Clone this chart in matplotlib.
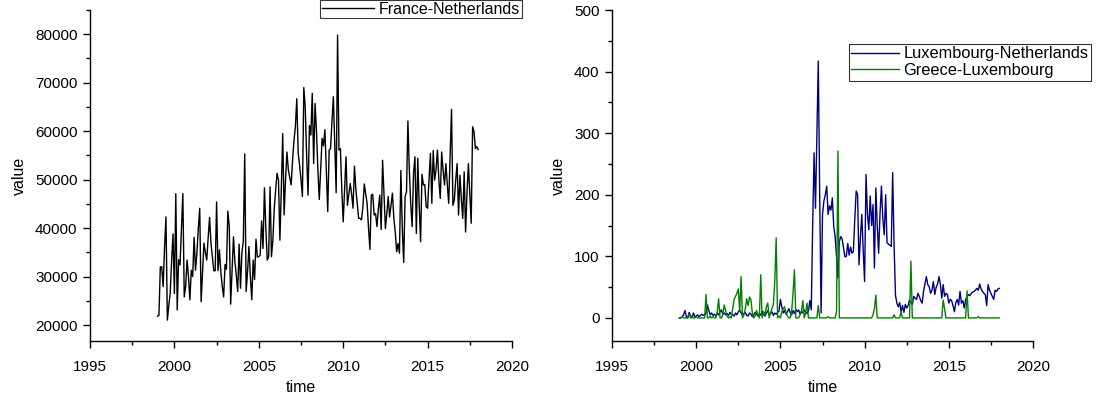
import numpy as np
import matplotlib
matplotlib.use("Agg")
import matplotlib.pyplot as plt
from matplotlib.ticker import MultipleLocator

plt.rcParams['font.family'] = ['Liberation Sans', 'DejaVu Sans']

start_year = 1999
france_netherlands = [
    21800, 22000, 32000, 32000, 27900, 36000, 42300, 21000, 24000, 26500,
    33000, 38800, 26500, 47100, 23100, 33500, 32400, 40000, 47100, 25800,
    28000, 33400, 30000, 25200, 31300, 30000, 38100, 31300, 34900, 40000,
    44100, 24800, 31000, 36900, 35000, 33400, 38000, 42200, 36900, 34000,
    31200, 31200, 45400, 31200, 35500, 31000, 28000, 25800, 32500, 31500,
    43500, 40300, 24300, 31000, 38200, 33000, 30300, 26900, 36700, 27600,
    35000, 37300, 55300, 26900, 31000, 36200, 30000, 25200, 33400, 29400,
    37700, 34000, 34100, 34400, 41500, 35800, 48300, 40000, 33400, 34100,
    48500, 34100, 37500, 44000, 48000, 51300, 49900, 37500, 48000, 59500,
    42700, 50000, 55700, 52000, 50500, 48900, 54000, 58000, 60900, 66700,
    55400, 53000, 50000, 46500, 69000, 65000, 55000, 46800, 61200, 59200,
    67800, 53300, 65700, 60000, 52000, 45900, 52000, 58500, 57000, 60300,
    52000, 43400, 56100, 56400, 62000, 67100, 57000, 47300, 79800, 56100,
    56400, 48000, 41300, 48000, 54700, 44700, 47000, 49200, 47000, 44100,
    52800, 48000, 45000, 42000, 42000, 41700, 44400, 49100, 47000, 45100,
    40000, 35600, 46800, 47000, 42700, 43000, 40300, 44000, 46800, 39700,
    54000, 47000, 39900, 43000, 46500, 42300, 44700, 47200, 42000, 39200,
    35100, 36800, 34800, 51900, 40000, 32900, 46500, 47500, 62100, 52000,
    45000, 40300, 51300, 54700, 38900, 54400, 45000, 37200, 51100, 48900,
    49000, 44400, 44100, 50000, 55400, 45100, 56000, 49900, 52000, 56100,
    50000, 46100, 55700, 52000, 48900, 53300, 49000, 45100, 55000, 64500,
    44700, 45800, 50000, 53300, 42700, 50900, 46000, 42000, 51600, 39200,
    47200, 53300, 47000, 41000, 60900, 59900, 56400, 56800, 56200,
]

luxembourg_netherlands = [
    0, 0, 2, 5, 12, 2, 0, 9, 3, 0,
    8, 2, 3, 5, 2, 4, 6, 4, 5, 8,
    21, 12, 5, 8, 4, 6, 3, 8, 5, 10,
    13, 6, 8, 5, 7, 4, 9, 6, 5, 3,
    8, 5, 10, 13, 8, 4, 7, 9, 4, 3,
    8, 6, 2, 5, 9, 6, 3, 7, 4, 11,
    6, 3, 8, 12, 5, 7, 10, 4, 8, 6,
    9, 11, 30, 18, 8, 12, 6, 10, 15, 9,
    5, 12, 7, 14, 10, 13, 6, 11, 8, 13,
    10, 7, 12, 28, 13, 150, 268, 178, 300, 417,
    200, 8, 168, 190, 200, 214, 168, 182, 175, 195,
    149, 132, 100, 65, 124, 132, 128, 113, 99, 100,
    121, 102, 115, 105, 108, 160, 206, 200, 86, 130,
    168, 110, 59, 233, 170, 143, 198, 150, 184, 81,
    211, 150, 105, 170, 214, 160, 135, 200, 122, 120,
    118, 116, 236, 120, 37, 24, 18, 25, 10, 20,
    9, 22, 16, 20, 29, 25, 22, 35, 32, 30,
    40, 35, 28, 24, 43, 55, 67, 54, 51, 40,
    45, 59, 38, 50, 55, 67, 55, 32, 54, 35,
    40, 38, 24, 30, 28, 20, 10, 25, 30, 21,
    43, 24, 28, 16, 30, 35, 38, 36, 40, 42,
    43, 45, 48, 45, 55, 47, 43, 40, 38, 20,
    54, 45, 40, 35, 30, 45, 43, 47, 48,
]

greece_luxembourg = [
    0, 0, 2, 0, 0, 0, 0, 6, 0, 3,
    0, 0, 2, 0, 0, 0, 0, 0, 0, 38,
    0, 0, 3, 0, 2, 0, 0, 10, 31, 0,
    0, 5, 21, 12, 3, 0, 2, 0, 15, 30,
    35, 40, 47, 10, 67, 0, 5, 15, 31, 20,
    34, 29, 8, 0, 3, 12, 5, 0, 70, 0,
    10, 5, 18, 24, 0, 8, 15, 22, 60, 130,
    0, 3, 0, 10, 15, 18, 8, 3, 0, 0,
    10, 40, 78, 0, 0, 0, 5, 10, 28, 0,
    8, 24, 0, 0, 0, 0, 0, 0, 0, 20,
    0, 0, 0, 0, 0, 0, 2, 0, 0, 0,
    0, 0, 10, 271, 0, 0, 0, 0, 0, 0,
    0, 0, 0, 0, 0, 0, 0, 0, 0, 0,
    0, 0, 0, 0, 0, 0, 0, 0, 5, 15,
    37, 0, 0, 0, 0, 0, 0, 0, 0, 0,
    0, 0, 0, 5, 0, 0, 0, 0, 10, 0,
    0, 0, 0, 0, 0, 92, 0, 0, 0, 0,
    0, 0, 0, 0, 0, 0, 0, 0, 0, 0,
    0, 0, 0, 0, 0, 0, 0, 0, 29, 15,
    0, 0, 0, 0, 0, 0, 0, 0, 0, 0,
    0, 0, 0, 0, 0, 44, 0, 0, 0, 0,
    0, 0, 0, 2, 0, 0, 0, 0, 0, 0,
    0, 0, 0, 0, 0, 0, 0, 0, 0,
]

x_ticks = [1995, 2000, 2005, 2010, 2015, 2020]

t_left = start_year + np.arange(len(france_netherlands)) / 12.0
t_lux = start_year + np.arange(len(luxembourg_netherlands)) / 12.0
t_gre = start_year + np.arange(len(greece_luxembourg)) / 12.0

W, H = 1103, 408
fig = plt.figure(figsize=(W / 100, H / 100), dpi=100)

def px_axes(x0, y0, x1, y1):
    return fig.add_axes([x0 / W, 1 - y1 / H, (x1 - x0) / W, (y1 - y0) / H])

ax1 = px_axes(90, 10, 512, 341)
ax2 = px_axes(612, 10, 1033, 341)

def style(ax, ymaj, ymin):
    for s in ['top', 'right']:
        ax.spines[s].set_visible(False)
    for s in ['left', 'bottom']:
        ax.spines[s].set_linewidth(1.0)
    ax.set_xlim(1995, 2020)
    ax.set_xticks(x_ticks)
    ax.xaxis.set_minor_locator(MultipleLocator(2.5))
    ax.yaxis.set_major_locator(MultipleLocator(ymaj))
    ax.yaxis.set_minor_locator(MultipleLocator(ymin))
    ax.tick_params(which='major', direction='out', length=5, width=1, labelsize=11, colors='black')
    ax.tick_params(axis='x', which='major', pad=9)
    ax.tick_params(axis='y', which='major', pad=4)
    ax.tick_params(which='minor', direction='out', length=3, width=1)
    ax.set_xlabel('time', fontsize=11.5, labelpad=4)
    ax.set_ylabel('value', fontsize=11.5, labelpad=6)

ax1.plot(t_left, france_netherlands, color='black', lw=1.0, label='France-Netherlands')
style(ax1, 10000, 5000)
ax1.set_ylim(16700, 85000)
leg1 = ax1.legend(loc='upper right', bbox_to_anchor=(522 / W, 1.0), bbox_transform=fig.transFigure,
                  frameon=True, fancybox=False, edgecolor='black', fontsize=11.5,
                  borderaxespad=0, handlelength=3.3, borderpad=0.1, handletextpad=0.3)
leg1.get_frame().set_linewidth(0.8)

ax2.plot(t_lux, luxembourg_netherlands, color='#000080', lw=1.0, label='Luxembourg-Netherlands')
ax2.plot(t_gre, greece_luxembourg, color='#008000', lw=1.0, label='Greece-Luxembourg')
style(ax2, 100, 50)
ax2.set_ylim(-37.5, 500)
leg2 = ax2.legend(loc='upper right', bbox_to_anchor=(1091 / W, 1 - 44 / H), bbox_transform=fig.transFigure,
                  frameon=True, fancybox=False, edgecolor='black', fontsize=11.8,
                  borderaxespad=0, handlelength=2.9, borderpad=0.15, handletextpad=0.3,
                  labelspacing=0.1)
leg2.get_frame().set_linewidth(0.8)

fig.savefig('out.png', dpi=100)
